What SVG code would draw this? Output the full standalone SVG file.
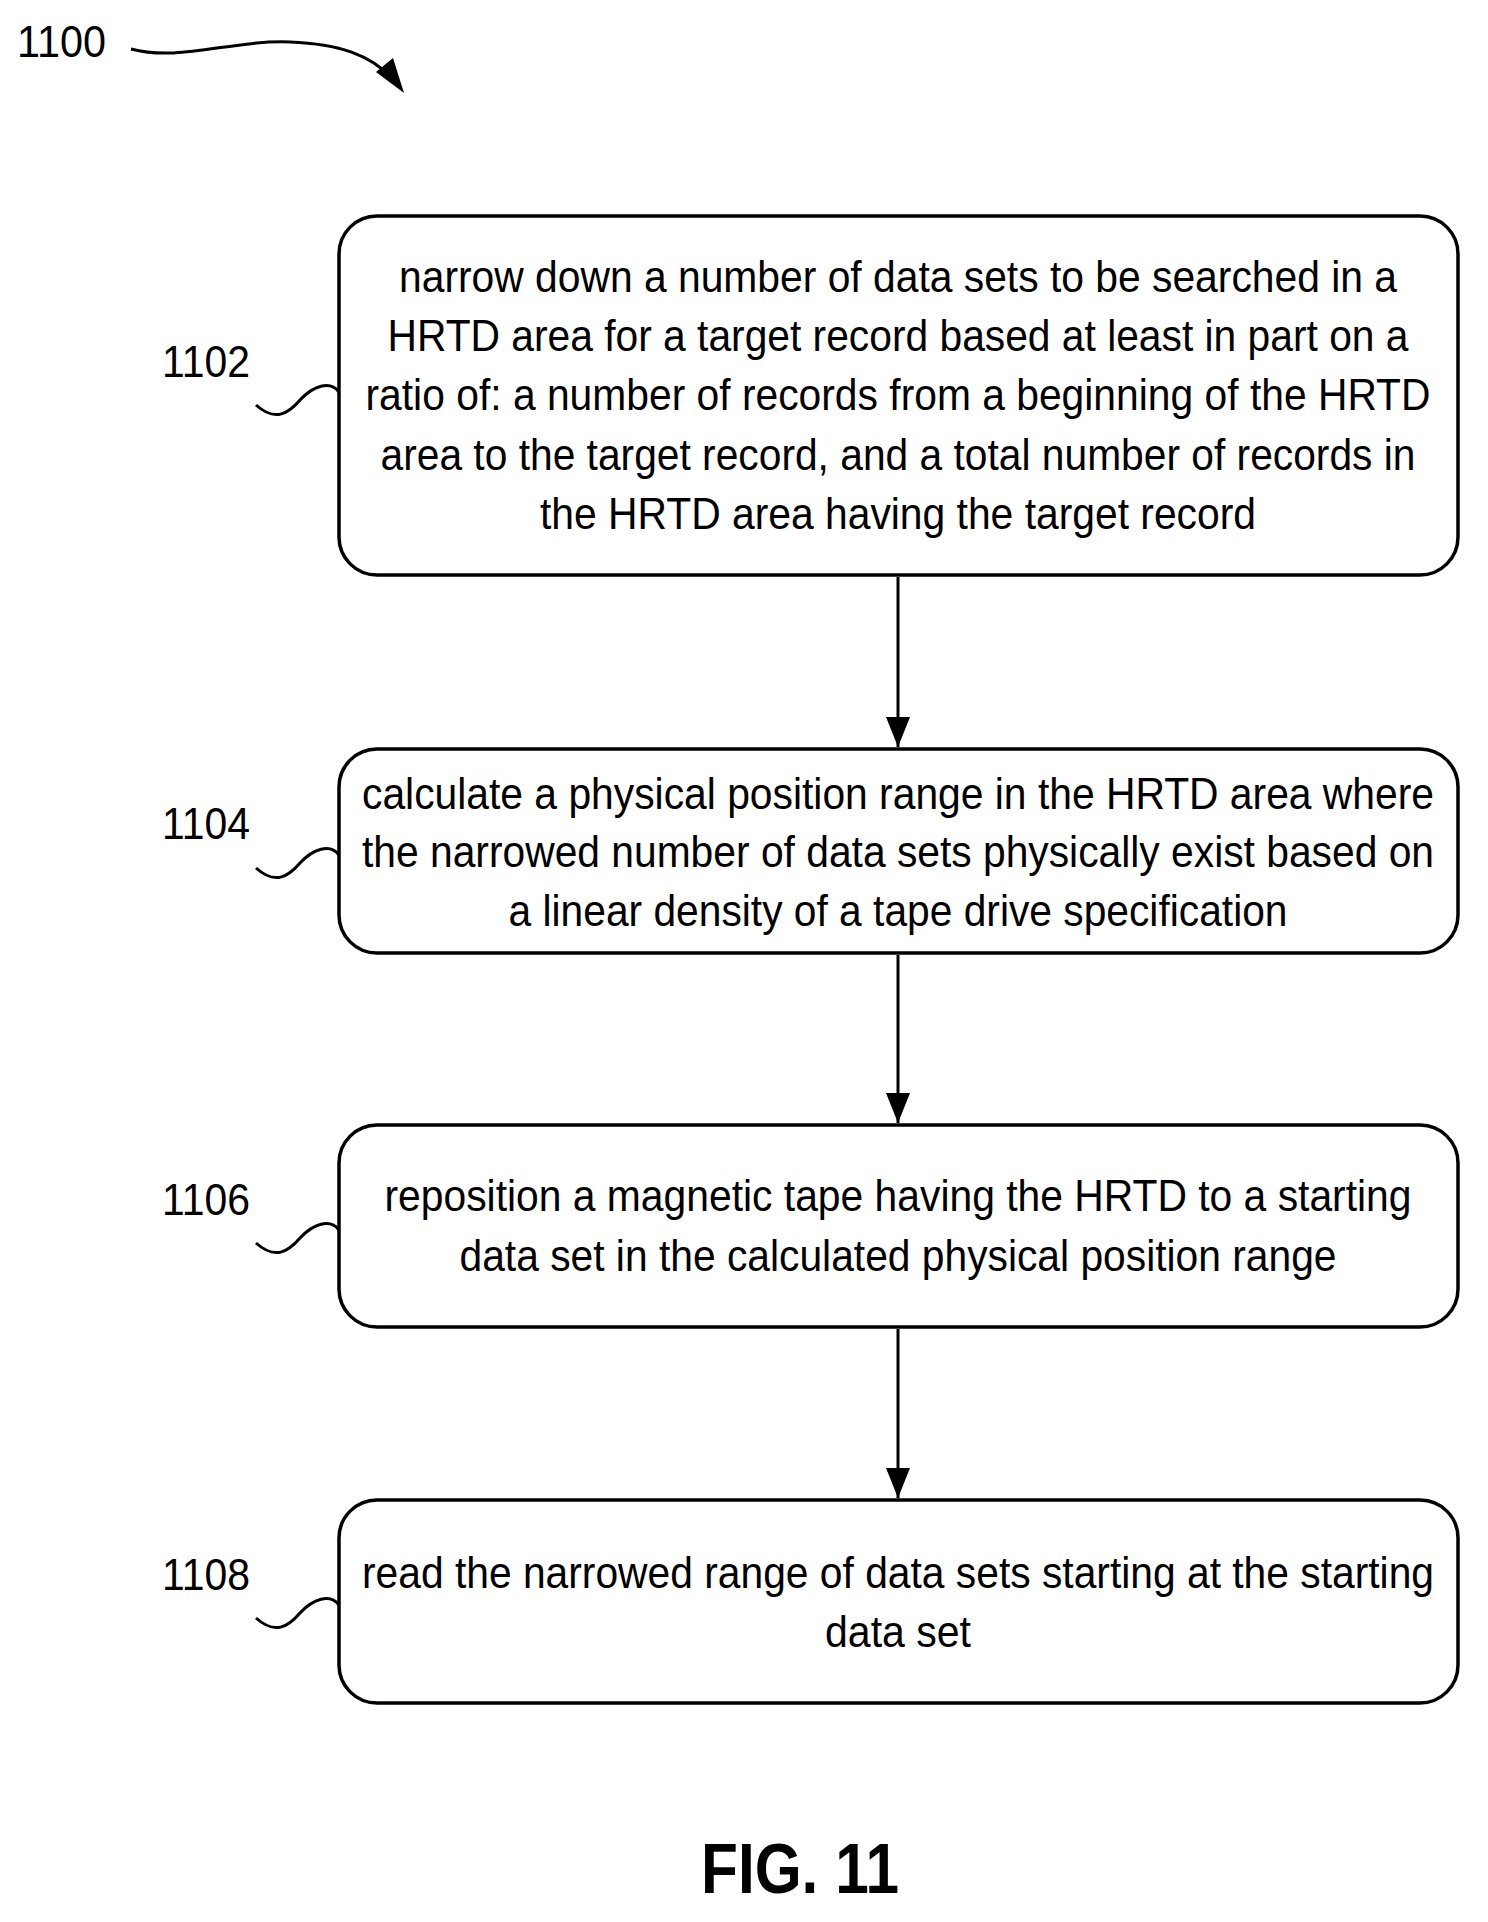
<svg xmlns="http://www.w3.org/2000/svg" width="1488" height="1922" viewBox="0 0 1488 1922">
<style>
.box{fill:#fff;stroke:#000;stroke-width:3.5}
.t{font-family:"Liberation Sans",Arial,sans-serif;font-size:44px;text-anchor:middle;fill:#000}
.l{font-family:"Liberation Sans",Arial,sans-serif;font-size:44px;fill:#000}
.w{fill:none;stroke:#000;stroke-width:3}
.c{stroke:#000;stroke-width:3;fill:none}
</style>
<defs>
<marker id="a" markerWidth="30" markerHeight="24" refX="30" refY="12" orient="auto" markerUnits="userSpaceOnUse" viewBox="0 0 30 24"><path d="M0,0 L30,12 L0,24 Z" fill="#000"/></marker></defs>
<rect width="1488" height="1922" fill="#fff"/>
<g id="ref1100"><text class="l" x="17" y="57" textLength="89" lengthAdjust="spacingAndGlyphs">1100</text>
<path class="w" d="M131 49 C180 62 230 40 290 42 C340 44 370 55 392 78"/><path d="M376 72 L404 93 L393 58 Z" fill="#000"/></g>
<g id="n1102"><rect class="box" x="339" y="216" width="1119" height="359" rx="38"/>
<text class="t" x="898" y="292" textLength="998" lengthAdjust="spacingAndGlyphs">narrow down a number of data sets to be searched in a</text>
<text class="t" x="898" y="351" textLength="1021" lengthAdjust="spacingAndGlyphs">HRTD area for a target record based at least in part on a</text>
<text class="t" x="898" y="410" textLength="1065" lengthAdjust="spacingAndGlyphs">ratio of: a number of records from a beginning of the HRTD</text>
<text class="t" x="898" y="470" textLength="1035" lengthAdjust="spacingAndGlyphs">area to the target record, and a total number of records in</text>
<text class="t" x="898" y="529" textLength="716" lengthAdjust="spacingAndGlyphs">the HRTD area having the target record</text>
<text class="l" x="162" y="377" textLength="88" lengthAdjust="spacingAndGlyphs">1102</text>
<path class="w" d="M256 405 C275 422 288 414 300 400 C313 386 330 380 339 392"/></g>
<g id="n1104"><rect class="box" x="339" y="749" width="1119" height="204" rx="38"/>
<text class="t" x="898" y="809" textLength="1072" lengthAdjust="spacingAndGlyphs">calculate a physical position range in the HRTD area where</text>
<text class="t" x="898" y="867" textLength="1072" lengthAdjust="spacingAndGlyphs">the narrowed number of data sets physically exist based on</text>
<text class="t" x="898" y="926" textLength="779" lengthAdjust="spacingAndGlyphs">a linear density of a tape drive specification</text>
<text class="l" x="162" y="839" textLength="88" lengthAdjust="spacingAndGlyphs">1104</text>
<path class="w" d="M256 868 C275 885 288 877 300 863 C313 849 330 843 339 855"/></g>
<g id="n1106"><rect class="box" x="339" y="1125" width="1119" height="202" rx="38"/>
<text class="t" x="898" y="1211" textLength="1027" lengthAdjust="spacingAndGlyphs">reposition a magnetic tape having the HRTD to a starting</text>
<text class="t" x="898" y="1271" textLength="877" lengthAdjust="spacingAndGlyphs">data set in the calculated physical position range</text>
<text class="l" x="162" y="1215" textLength="88" lengthAdjust="spacingAndGlyphs">1106</text>
<path class="w" d="M256 1243 C275 1260 288 1252 300 1238 C313 1224 330 1218 339 1230"/></g>
<g id="n1108"><rect class="box" x="339" y="1500" width="1119" height="203" rx="38"/>
<text class="t" x="898" y="1588" textLength="1072" lengthAdjust="spacingAndGlyphs">read the narrowed range of data sets starting at the starting</text>
<text class="t" x="898" y="1647" textLength="146" lengthAdjust="spacingAndGlyphs">data set</text>
<text class="l" x="162" y="1590" textLength="88" lengthAdjust="spacingAndGlyphs">1108</text>
<path class="w" d="M256 1618 C275 1635 288 1627 300 1613 C313 1599 330 1593 339 1605"/></g>
<g id="connectors">
<line class="c" x1="898" y1="577" x2="898" y2="747" marker-end="url(#a)"/>
<line class="c" x1="898" y1="955" x2="898" y2="1123" marker-end="url(#a)"/>
<line class="c" x1="898" y1="1329" x2="898" y2="1498" marker-end="url(#a)"/>
</g>
<text x="800" y="1893" text-anchor="middle" font-family="Liberation Sans,Arial,sans-serif" font-weight="bold" font-size="70" textLength="198" lengthAdjust="spacingAndGlyphs">FIG. 11</text>
</svg>
